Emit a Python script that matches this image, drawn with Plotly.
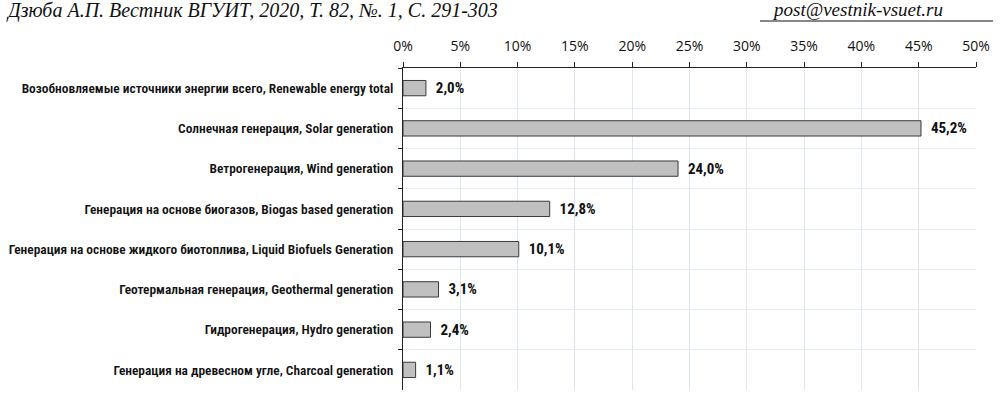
import plotly.graph_objects as go

categories = [
    "Возобновляемые источники энергии всего, Renewable energy total",
    "Солнечная генерация, Solar generation",
    "Ветрогенерация, Wind generation",
    "Генерация на основе биогазов, Biogas based generation",
    "Генерация на основе жидкого биотоплива, Liquid Biofuels Generation",
    "Геотермальная генерация, Geothermal generation",
    "Гидрогенерация, Hydro generation",
    "Генерация на древесном угле, Charcoal generation",
]
values = [2.0, 45.2, 24.0, 12.8, 10.1, 3.1, 2.4, 1.1]
value_labels = ["2,0%", "45,2%", "24,0%", "12,8%", "10,1%", "3,1%", "2,4%", "1,1%"]
tick_vals = [0, 5, 10, 15, 20, 25, 30, 35, 40, 45, 50]
tick_text = ["0%", "5%", "10%", "15%", "20%", "25%", "30%", "35%", "40%", "45%", "50%"]

W, H = 1006, 395
L, R, T, B = 403, 30, 68, 5
PW = W - L - R
PH = H - T - B

def px(x):
    return (x - L) / PW

def py(y):
    return 1 - (y - T) / PH

narrow = "Liberation Sans Narrow, Arial Narrow, Roboto Condensed, Roboto, sans-serif"

fig = go.Figure(go.Bar(
    y=categories,
    x=values,
    orientation="h",
    width=0.38,
    marker=dict(color="#c0c0c0", line=dict(color="#3a3a3a", width=1)),
    text=["  " + t for t in value_labels],
    textposition="outside",
    constraintext="none",
    textfont=dict(family=narrow, size=15, color="#111", weight="bold"),
    cliponaxis=False,
))

fig.update_layout(
    width=W, height=H,
    margin=dict(l=L, r=R, t=T, b=B, autoexpand=False),
    plot_bgcolor="white", paper_bgcolor="white",
    showlegend=False,
    xaxis=dict(
        side="top", range=[0, 50], tickvals=tick_vals, ticktext=tick_text,
        showgrid=True, gridcolor="#dde6ef", gridwidth=1,
        showline=True, linecolor="#222", linewidth=1,
        ticks="outside", ticklen=5, tickcolor="#222",
        tickfont=dict(family="Open Sans, Calibri, sans-serif", size=14, color="#111"),
        ticklabelstandoff=5,
        zeroline=False, fixedrange=True, automargin=False,
    ),
    yaxis=dict(
        autorange="reversed",
        showgrid=True, gridcolor="#e4ebf2", gridwidth=1,
        tickson="boundaries",
        showline=True, linecolor="#222", linewidth=1,
        ticks="outside", ticklen=4, tickcolor="#222",
        tickfont=dict(family=narrow, size=13.4, color="#111", weight=600),
        ticklabelstandoff=6,
        automargin=False,
    ),
    font=dict(family=narrow),
)

fig.add_annotation(
    text="<i>Дзюба А.П. Вестник ВГУИТ, 2020, Т. 82, №. 1, С. 291-303</i>",
    xref="paper", yref="paper", x=px(4), y=py(10), xanchor="left", yanchor="middle",
    showarrow=False, font=dict(family="Liberation Serif, DejaVu Serif, serif", size=20, color="#111"),
)
fig.add_annotation(
    text="<i>post@vestnik-vsuet.ru</i>",
    xref="paper", yref="paper", x=px(857), y=py(9), xanchor="center", yanchor="middle",
    showarrow=False, font=dict(family="Liberation Serif, DejaVu Serif, serif", size=19, color="#111"),
)
fig.add_shape(type="line", xref="paper", yref="paper",
              x0=px(760), x1=px(993), y0=py(21), y1=py(21),
              line=dict(color="#111", width=1))

fig.write_html("out.html", config={"displayModeBar": False},
               post_script="document.body.style.margin='0';")
